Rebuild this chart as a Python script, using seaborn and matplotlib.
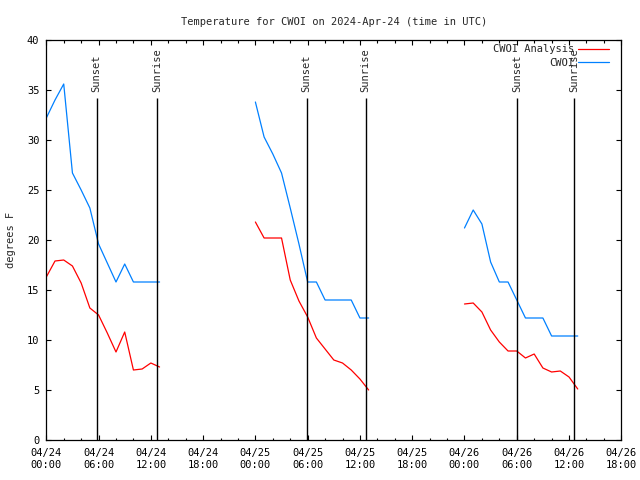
import matplotlib
matplotlib.use("Agg")
import matplotlib.pyplot as plt
import matplotlib.dates as mdates
from matplotlib.lines import Line2D
import numpy as np
import pandas as pd
import seaborn as sns

# ---------------- data ----------------
start_time = "2024-04-24 00:00"
segment_hours = [list(range(0, 14)), list(range(24, 38)), list(range(48, 62))]

analysis_temps = [
    [16.3, 17.9, 18.0, 17.4, 15.7, 13.2, 12.5, 10.7, 8.8, 10.8, 7.0, 7.1, 7.7, 7.3],
    [21.8, 20.2, 20.2, 20.2, 16.0, 13.9, 12.3, 10.2, 9.1, 8.0, 7.7, 7.0, 6.1, 5.0],
    [13.6, 13.7, 12.8, 11.0, 9.8, 8.9, 8.9, 8.2, 8.6, 7.2, 6.8, 6.9, 6.3, 5.1],
]
obs_temps = [
    [32.2, 34.0, 35.6, 26.7, 25.0, 23.2, 19.6, 17.7, 15.8, 17.6, 15.8, 15.8, 15.8, 15.8],
    [33.8, 30.3, 28.6, 26.7, 23.2, 19.6, 15.8, 15.8, 14.0, 14.0, 14.0, 14.0, 12.2, 12.2],
    [21.2, 23.0, 21.6, 17.8, 15.8, 15.8, 14.0, 12.2, 12.2, 12.2, 10.4, 10.4, 10.4, 10.4],
]
sunset_hours = [5.78, 29.89, 54.0]
sunrise_hours = [12.73, 36.66, 60.55]
series_labels = ["CWOI Analysis", "CWOI"]
series_colors = ["#ff0000", "#0080ff"]
title_text = "Temperature for CWOI on 2024-Apr-24 (time in UTC)"
ylabel_text = "degrees F"

# ---------------- build table ----------------
t0 = pd.Timestamp(start_time)
rows = []
for label, temps in zip(series_labels, [analysis_temps, obs_temps]):
    for seg, (hours, vals) in enumerate(zip(segment_hours, temps)):
        for h, v in zip(hours, vals):
            rows.append({"time": t0 + pd.Timedelta(hours=h), "temp": v,
                         "series": label, "segment": seg})
df = pd.DataFrame(rows)

# ---------------- style ----------------
sns.set_theme(style="ticks")
plt.rcParams["font.family"] = ["DejaVu Sans Mono"]
plt.rcParams.update({
    "font.size": 7.5,
    "xtick.direction": "in", "ytick.direction": "in",
    "xtick.top": True, "ytick.right": True,
    "xtick.major.size": 3.6, "ytick.major.size": 3.6,
    "xtick.minor.size": 1.8, "ytick.minor.size": 1.8,
    "xtick.major.width": 0.8, "ytick.major.width": 0.8,
    "xtick.minor.width": 0.8,
    "axes.linewidth": 0.9, "axes.edgecolor": "black",
    "xtick.color": "black", "ytick.color": "black",
    "xtick.labelsize": 7.5, "ytick.labelsize": 7.5,
})

fig = plt.figure(figsize=(6.4, 4.8), dpi=100)
ax = fig.add_axes([46.3 / 640, 1 - 440 / 480, (621.3 - 46.3) / 640, 400 / 480])

for label, color in zip(series_labels, series_colors):
    sub = df[df["series"] == label]
    sns.lineplot(data=sub, x="time", y="temp", units="segment", estimator=None,
                 color=color, lw=0.9, ax=ax, legend=False)

# sunset / sunrise markers
for name, hours in [("Sunset", sunset_hours), ("Sunrise", sunrise_hours)]:
    for h in hours:
        t = t0 + pd.Timedelta(hours=h)
        ax.vlines(t, 0, 34.2, color="black", lw=1.0)
        ax.text(t, 34.8, name, rotation=90, ha="center", va="bottom", fontsize=7.5)

ax.set_xlim(t0, t0 + pd.Timedelta(hours=66))
ax.set_ylim(0, 40)
ax.set_yticks(np.arange(0, 41, 5))
ax.xaxis.set_major_locator(mdates.HourLocator(byhour=range(0, 24, 6)))
ax.xaxis.set_minor_locator(mdates.HourLocator(byhour=range(0, 24, 2)))
ax.xaxis.set_major_formatter(mdates.DateFormatter("%m/%d\n%H:%M"))
ax.tick_params(axis="x", which="major", pad=6)
ax.tick_params(axis="y", which="major", pad=5)
ax.set_xlabel("")
ax.set_ylabel(ylabel_text, fontsize=7.5, labelpad=8)
ax.set_title(title_text, fontsize=7.5, pad=11)
for s in ax.spines.values():
    s.set_visible(True)

handles = [Line2D([], [], color=c, lw=0.9) for c in series_colors]
ax.legend(handles, series_labels, loc="upper right", markerfirst=False,
          frameon=False, handlelength=3.0, handletextpad=0.3,
          labelspacing=0.35, borderaxespad=0.3, fontsize=7.5,
          bbox_to_anchor=(1 - 5 / 575, 1 + 3 / 400))

fig.savefig("out.png", dpi=100)
